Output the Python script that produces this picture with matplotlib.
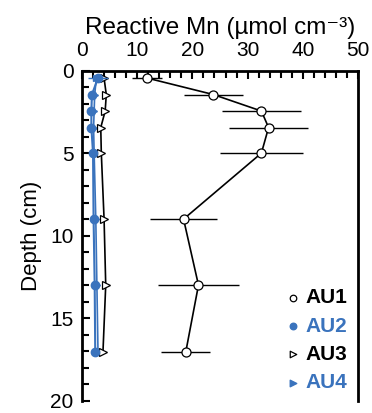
import matplotlib.pyplot as plt
from matplotlib.ticker import MultipleLocator

plt.rcParams['font.family'] = ['Liberation Sans', 'DejaVu Sans']

# depth of each sample (cm)
depth = [0.45, 1.45, 2.45, 3.45, 5.0, 9.0, 13.0, 17.05]

# reactive Mn (umol cm-3)
au1 = [11.8, 23.8, 32.5, 33.8, 32.5, 18.4, 21.1, 18.8]
au1_err = [2.75, 5.4, 7.1, 7.2, 7.5, 6.1, 7.4, 4.4]
au2 = [2.9, 1.8, 1.7, 1.7, 2.0, 2.1, 2.3, 2.4]
au2_err = [1.8, 0.3, 0.3, 0.3, 0.3, 0.3, 0.3, 0.3]
au3 = [4.0, 4.4, 4.2, 3.4, 3.5, 4.0, 4.3, 3.8]
au4 = [2.6, 2.3, 2.2, 2.1, 2.2, 2.5, 2.7, 2.9]

blue = '#3a73bd'

fig = plt.figure(figsize=(3.72, 4.13), dpi=100)
ax = fig.add_axes([0.2204, 0.03, 0.742, 0.799])

ax.errorbar(au1, depth, xerr=au1_err, color='black', lw=1.2, elinewidth=1.0,
            marker='o', ms=6.5, mfc='white', mec='black', mew=0.9, zorder=3)
ax.plot(au4, depth, color=blue, lw=1.2, marker='>', ms=4, mfc=blue,
        mec=blue, zorder=2)
ax.plot(au3, depth, color='black', lw=1.2, marker='>', ms=6, mfc='white',
        mec='black', mew=0.9, zorder=3)
ax.errorbar(au2, depth, xerr=au2_err, color=blue, lw=1.5, elinewidth=1.0,
            marker='o', ms=6, mfc=blue, mec=blue, zorder=4)

ax.set_xlim(0, 50)
ax.set_ylim(20, 0)
ax.xaxis.tick_top()
ax.xaxis.set_label_position('top')
ax.xaxis.set_major_locator(MultipleLocator(10))
ax.xaxis.set_minor_locator(MultipleLocator(2))
ax.yaxis.set_major_locator(MultipleLocator(5))
ax.yaxis.set_minor_locator(MultipleLocator(1))
ax.tick_params(which='both', direction='in', width=1.5, labelsize=15)
ax.tick_params(axis='x', pad=8)
ax.tick_params(axis='y', pad=6)
ax.tick_params(which='major', length=6)
ax.tick_params(which='minor', length=5)
for s in ['top', 'left', 'right']:
    ax.spines[s].set_linewidth(2)
ax.spines['bottom'].set_visible(False)

ax.set_xlabel('Reactive Mn (µmol cm⁻³)', fontsize=17.5, labelpad=5)
ax.set_ylabel('Depth (cm)', fontsize=16, labelpad=6)

h1 = ax.scatter([], [], marker='o', s=22, facecolor='white', edgecolor='black', lw=0.9)
h2 = ax.scatter([], [], marker='o', s=22, color=blue)
h3 = ax.scatter([], [], marker='>', s=22, facecolor='white', edgecolor='black', lw=0.9)
h4 = ax.scatter([], [], marker='>', s=22, color=blue)
ax.legend([h1, h2, h3, h4], ['AU1', 'AU2', 'AU3', 'AU4'], loc='lower right',
          bbox_to_anchor=(0.99, 0.0), frameon=False, handletextpad=0.1,
          labelspacing=0.45, borderaxespad=0.0, handlelength=1.0,
          labelcolor=['black', blue, 'black', blue],
          prop={'weight': 'bold', 'size': 15})

fig.savefig('out.png', dpi=100)
